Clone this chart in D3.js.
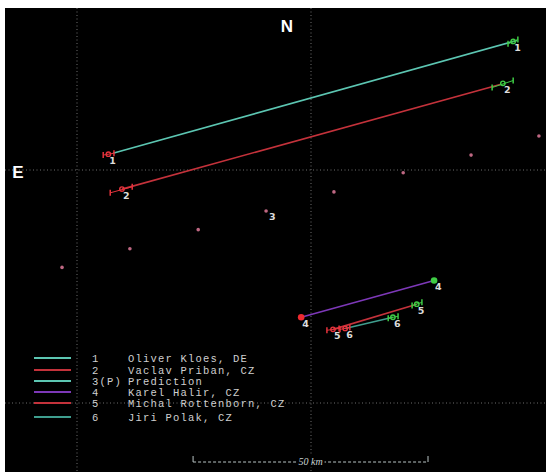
<!DOCTYPE html>
<html>
<head>
<meta charset="utf-8">
<script src="https://cdn.jsdelivr.net/npm/d3@7"></script>
<style>
  html, body { margin: 0; padding: 0; background: #fff; }
  svg { display: block; }
</style>
</head>
<body>
<svg id="chart" width="546" height="472"></svg>
<script>
// Ground tracks of meteor observations, in km relative to the reference grid crossing.
const trackIds   = ["1", "2", "3(P)", "4", "5", "6"];
const trackNames = ["Oliver Kloes, DE", "Vaclav Priban, CZ", "Prediction", "Karel Halir, CZ", "Michal Rottenborn, CZ", "Jiri Polak, CZ"];

// observed tracks: line start / end [x km, y km]
const trackLineStart = { "1": [-42.3, 3.6], "2": [-40.4, -4.1], "4": [-2.1, -31.6], "5": [4.7, -34.2], "6": [7.3, -34.0] };
const trackLineEnd   = { "1": [44.0, 27.8], "2": [40.6, 18.4], "4": [26.3, -23.7], "5": [22.6, -28.8], "6": [17.5, -31.6] };

// first-frame (red) and last-frame (green) marks of each track
const startMarks = {
  "1": [[-44.4, 3.2], [-43.3, 3.4], [-42.1, 3.6]],
  "2": [[-42.9, -4.9], [-40.4, -4.1], [-38.2, -3.6]],
  "5": [[3.4, -34.4], [4.7, -34.2], [6.0, -34.0]],
  "6": [[6.2, -34.2], [7.3, -34.0], [8.3, -33.8]]
};
const endMarks = {
  "1": [[42.1, 27.1], [43.2, 27.6], [44.2, 28.0]],
  "2": [[38.7, 17.7], [41.0, 18.6], [43.2, 19.2]],
  "5": [[21.6, -29.1], [22.6, -28.8], [23.7, -28.4]],
  "6": [[16.5, -31.8], [17.5, -31.6], [18.6, -31.4]]
};
// single-point ends (track 4)
const startDots = { "4": [-2.1, -31.6] };
const endDots   = { "4": [26.3, -23.7] };

// predicted positions along the prediction path
const predictionPoints = [[-53.2, -20.9], [-38.7, -16.9], [-24.1, -12.8], [-9.6, -8.8], [4.9, -4.7], [19.7, -0.6], [34.2, 3.2], [48.7, 7.3]];
const predictionLabelIndex = 3;

// grid lines every 50 km, and the scale bar
const gridX = [-50, 0];
const gridY = [0, -50];
const scaleBarKm = [-25.2, 25.0];
const scaleBarText = "50 km";

const trackColor = { "1": "#5cc6b2", "2": "#c4323b", "3(P)": "#5cc6b2", "4": "#7d38b8", "5": "#c4323b", "6": "#3f9e8e" };
const startColor = "#e5333c";
const endColor = "#3fcc45";
const labelColor = "#dcdcdc";

const svg = d3.select("#chart");
const x = d3.scaleLinear().domain([-50, 50]).range([77, 545]);
const y = d3.scaleLinear().domain([0, -50]).range([170, 403]);

// sky background
svg.append("rect").attr("x", 5).attr("y", 8).attr("width", 541).attr("height", 464).attr("fill", "#000");

const plot = svg.append("g");

// dotted grid
plot.selectAll(".gx").data(gridX).join("line")
  .attr("x1", d => x(d)).attr("x2", d => x(d)).attr("y1", 8).attr("y2", 472)
  .attr("stroke", "#8a8a8a").attr("stroke-width", 1).attr("stroke-dasharray", "1,2.5").attr("opacity", 0.8);
plot.selectAll(".gy").data(gridY).join("line")
  .attr("y1", d => y(d)).attr("y2", d => y(d)).attr("x1", 5).attr("x2", 546)
  .attr("stroke", "#8a8a8a").attr("stroke-width", 1).attr("stroke-dasharray", "1,2.5").attr("opacity", 0.8);

// compass letters
svg.append("text").attr("x", 287).attr("y", 32).attr("text-anchor", "middle")
  .attr("font-family", "Arial, 'Liberation Sans', sans-serif").attr("font-weight", "bold").attr("font-size", 17)
  .attr("fill", "#fff").text("N");
svg.append("text").attr("x", 18).attr("y", 178).attr("text-anchor", "middle")
  .attr("font-family", "Arial, 'Liberation Sans', sans-serif").attr("font-weight", "bold").attr("font-size", 17)
  .attr("fill", "#fff").text("E");

// prediction points
plot.selectAll(".pred").data(predictionPoints).join("circle")
  .attr("cx", d => x(d[0])).attr("cy", d => y(d[1])).attr("r", 1.8)
  .attr("fill", "#e07a9a").attr("opacity", 0.85);
plot.append("text").attr("x", x(predictionPoints[predictionLabelIndex][0]) + 3)
  .attr("y", y(predictionPoints[predictionLabelIndex][1]) + 9)
  .attr("font-family", "'DejaVu Sans', sans-serif").attr("font-size", 9.5).attr("font-weight", "bold")
  .attr("fill", labelColor).text("3");

// track lines
const lineIds = Object.keys(trackLineStart);
plot.selectAll(".track").data(lineIds).join("line")
  .attr("x1", d => x(trackLineStart[d][0])).attr("y1", d => y(trackLineStart[d][1]))
  .attr("x2", d => x(trackLineEnd[d][0])).attr("y2", d => y(trackLineEnd[d][1]))
  .attr("stroke", d => trackColor[d]).attr("stroke-width", 1.6);

// frame marks: outer ticks and a middle dot
function drawMarks(marks, color) {
  Object.keys(marks).forEach(id => {
    const pts = marks[id];
    pts.forEach((p, i) => {
      if (i === 1) {
        plot.append("circle").attr("cx", x(p[0])).attr("cy", y(p[1])).attr("r", 2.2)
          .attr("fill", "none").attr("stroke", color).attr("stroke-width", 1.4);
      } else {
        plot.append("line").attr("x1", x(p[0])).attr("x2", x(p[0]))
          .attr("y1", y(p[1]) - 3).attr("y2", y(p[1]) + 3)
          .attr("stroke", color).attr("stroke-width", 1.5);
      }
    });
    plot.append("line")
      .attr("x1", x(pts[0][0])).attr("y1", y(pts[0][1]))
      .attr("x2", x(pts[pts.length - 1][0])).attr("y2", y(pts[pts.length - 1][1]))
      .attr("stroke", color).attr("stroke-width", 1);
  });
}
drawMarks(startMarks, startColor);
drawMarks(endMarks, endColor);

Object.keys(startDots).forEach(id => {
  plot.append("circle").attr("cx", x(startDots[id][0])).attr("cy", y(startDots[id][1])).attr("r", 3.3).attr("fill", "#ee2a30");
});
Object.keys(endDots).forEach(id => {
  plot.append("circle").attr("cx", x(endDots[id][0])).attr("cy", y(endDots[id][1])).attr("r", 3.3).attr("fill", "#3fcc45");
});

// number labels at both ends of each track
const labelAt = [];
lineIds.forEach(id => {
  const s = startMarks[id] ? startMarks[id][1] : startDots[id];
  const e = endMarks[id] ? endMarks[id][1] : endDots[id];
  labelAt.push({ id, p: s }, { id, p: e });
});
plot.selectAll(".num").data(labelAt).join("text")
  .attr("x", d => x(d.p[0]) + 1).attr("y", d => y(d.p[1]) + 10)
  .attr("font-family", "'DejaVu Sans', sans-serif").attr("font-size", 9.5).attr("font-weight", "bold")
  .attr("fill", labelColor).text(d => d.id);

// legend
const legendRowY = [358, 370, 381, 392, 403, 417];
const legend = svg.append("g")
  .attr("font-family", "'Courier New', 'Liberation Mono', monospace")
  .attr("font-size", 10.5).attr("letter-spacing", 1.2).attr("fill", "#cfcfcf");
trackIds.forEach((id, i) => {
  const yy = legendRowY[i];
  legend.append("line").attr("x1", 34).attr("x2", 71).attr("y1", yy).attr("y2", yy)
    .attr("stroke", trackColor[id]).attr("stroke-width", 2.2);
  legend.append("text").attr("x", 92).attr("y", yy + 3.5).text(id);
  legend.append("text").attr("x", 128).attr("y", yy + 3.5).text(trackNames[i]);
});

// scale bar
const sbY = 462;
const sb = svg.append("g").attr("stroke", "#b8c4c4").attr("stroke-width", 1);
sb.append("line").attr("x1", x(scaleBarKm[0])).attr("x2", x(scaleBarKm[1])).attr("y1", sbY).attr("y2", sbY)
  .attr("stroke-dasharray", "3,2");
sb.append("line").attr("x1", x(scaleBarKm[0])).attr("x2", x(scaleBarKm[0])).attr("y1", sbY - 6).attr("y2", sbY);
sb.append("line").attr("x1", x(scaleBarKm[1])).attr("x2", x(scaleBarKm[1])).attr("y1", sbY - 6).attr("y2", sbY);
const midX = x((scaleBarKm[0] + scaleBarKm[1]) / 2);
svg.append("rect").attr("x", midX - 14).attr("y", sbY - 6).attr("width", 28).attr("height", 11).attr("fill", "#000");
svg.append("text").attr("x", midX).attr("y", sbY + 3).attr("text-anchor", "middle")
  .attr("font-family", "'Liberation Serif', serif").attr("font-style", "italic").attr("font-size", 10)
  .attr("fill", "#c8d2d2").text(scaleBarText);
</script>
</body>
</html>
